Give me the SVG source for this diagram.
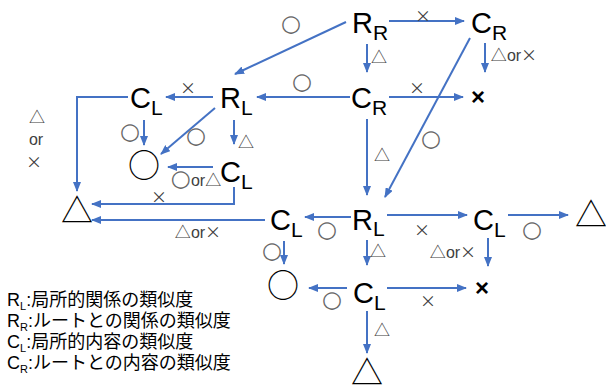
<svg xmlns="http://www.w3.org/2000/svg" width="606" height="387" viewBox="0 0 606 387">
<defs>
<marker id="ah" markerWidth="10" markerHeight="8" refX="9" refY="4" orient="auto" markerUnits="userSpaceOnUse"><path d="M0,0 L10,4 L0,8 z" fill="#4472C4"/></marker>
</defs>
<style>
.c{stroke:#4472C4;stroke-width:2;fill:none;marker-end:url(#ah)}
.n{font-family:"Liberation Sans",Arial,sans-serif;font-size:29px;fill:#000}
.s{font-size:21px}
.l{font-family:"Noto Sans CJK JP",sans-serif;font-size:16px;fill:#404040;text-anchor:middle}
.ci{font-family:"DejaVu Sans",sans-serif;font-size:23px;fill:#666}
.o{font-family:"Liberation Sans",sans-serif}
.big{font-family:"Noto Sans CJK JP",sans-serif;font-size:32px;fill:#000;text-anchor:middle}
.bx{font-family:"Liberation Sans",sans-serif;font-size:24px;font-weight:bold;text-anchor:middle}
.g{font-family:"Liberation Sans","Noto Sans CJK JP",sans-serif;font-size:18px;fill:#000}
.gs{font-size:11px}
</style>
<rect width="606" height="387" fill="#fff"/>
<g id="connectors">
<line class="c" x1="389" y1="21" x2="464" y2="21"/>
<line class="c" x1="346" y1="22" x2="235" y2="74"/>
<line class="c" x1="367" y1="44" x2="367" y2="72"/>
<line class="c" x1="485" y1="43" x2="485" y2="72"/>
<line class="c" x1="389" y1="97" x2="463" y2="97"/>
<line class="c" x1="470" y1="38" x2="385" y2="197"/>
<line class="c" x1="367" y1="119" x2="367" y2="195"/>
<line class="c" x1="350" y1="97" x2="257" y2="97"/>
<line class="c" x1="213" y1="97" x2="166" y2="97"/>
<polyline class="c" points="128,97 77,97 77,191"/>
<line class="c" x1="144" y1="120" x2="144" y2="145"/>
<line class="c" x1="215" y1="108" x2="161" y2="154"/>
<line class="c" x1="234" y1="120" x2="234" y2="144"/>
<line class="c" x1="213" y1="167" x2="168" y2="167"/>
<polyline class="c" points="234,187 234,204 92,204"/>
<line class="c" x1="265" y1="220" x2="92" y2="220"/>
<line class="c" x1="351" y1="217" x2="305" y2="217"/>
<line class="c" x1="284" y1="241" x2="284" y2="264"/>
<line class="c" x1="387" y1="215" x2="467" y2="215"/>
<line class="c" x1="367" y1="240" x2="367" y2="265"/>
<line class="c" x1="508" y1="215" x2="568" y2="215"/>
<line class="c" x1="488" y1="238" x2="488" y2="266"/>
<line class="c" x1="347" y1="288" x2="309" y2="288"/>
<line class="c" x1="387" y1="288" x2="466" y2="288"/>
<line class="c" x1="367" y1="311" x2="367" y2="353"/>
</g>
<g id="labels">
<text class="l ci" x="291" y="31">○</text>
<text class="l" x="423" y="22">×</text>
<text class="l" x="379" y="63">△</text>
<text class="l" x="514" y="61">△<tspan class="o">or</tspan>×</text>
<text class="l" x="417" y="94">×</text>
<text class="l ci" x="431" y="146">○</text>
<text class="l" x="382" y="161">△</text>
<text class="l ci" x="302" y="89">○</text>
<text class="l" x="188" y="94">×</text>
<text class="l" x="37" y="123">△</text>
<text class="l o" x="36" y="145">or</text>
<text class="l" x="34" y="168">×</text>
<text class="l ci" x="130" y="139">○</text>
<text class="l ci" x="196" y="143">○</text>
<text class="l" x="246" y="148">△</text>
<text class="l" x="196" y="186"><tspan class="ci">○</tspan><tspan class="o">or</tspan>△</text>
<text class="l" x="159" y="203">×</text>
<text class="l" x="198" y="238">△<tspan class="o">or</tspan>×</text>
<text class="l ci" x="327" y="237">○</text>
<text class="l ci" x="272" y="258">○</text>
<text class="l" x="422" y="236">×</text>
<text class="l" x="378" y="257">△</text>
<text class="l ci" x="532" y="237">○</text>
<text class="l" x="453" y="258">△<tspan class="o">or</tspan>×</text>
<text class="l ci" x="332" y="307">○</text>
<text class="l" x="428" y="307">×</text>
<text class="l" x="382" y="336">△</text>
</g>
<g id="n-RR"><text class="n" x="352" y="33">R<tspan class="s" dy="7">R</tspan></text></g>
<g id="n-CR1"><text class="n" x="471" y="33">C<tspan class="s" dy="7">R</tspan></text></g>
<g id="n-CR2"><text class="n" x="351" y="108">C<tspan class="s" dy="7">R</tspan></text></g>
<g id="n-RL1"><text class="n" x="220" y="108">R<tspan class="s" dy="7">L</tspan></text></g>
<g id="n-CL1"><text class="n" x="130" y="108">C<tspan class="s" dy="7">L</tspan></text></g>
<g id="n-CL2"><text class="n" x="220" y="182">C<tspan class="s" dy="7">L</tspan></text></g>
<g id="n-CL3"><text class="n" x="270" y="230">C<tspan class="s" dy="7">L</tspan></text></g>
<g id="n-RL2"><text class="n" x="352" y="230">R<tspan class="s" dy="6">L</tspan></text></g>
<g id="n-CL5"><text class="n" x="473" y="230">C<tspan class="s" dy="7">L</tspan></text></g>
<g id="n-CL4"><text class="n" x="353" y="303">C<tspan class="s" dy="7">L</tspan></text></g>
<g id="t-circle1"><text class="big" x="144" y="177">○</text></g>
<g id="t-tri1"><text class="big" x="77" y="222">△</text></g>
<g id="t-x1"><text class="bx" x="478" y="105">×</text></g>
<g id="t-circle2"><text class="big" x="283" y="297">○</text></g>
<g id="t-tri2"><text class="big" x="591" y="226">△</text></g>
<g id="t-x2"><text class="bx" x="482" y="296">×</text></g>
<g id="t-tri3"><text class="big" x="367" y="384">△</text></g>
<g id="legend">
<text class="g" x="7" y="306">R<tspan class="gs" dy="4">L</tspan><tspan dy="-4">:局所的関係の類似度</tspan></text>
<text class="g" x="7" y="327">R<tspan class="gs" dy="4">R</tspan><tspan dy="-4">:ルートとの関係の類似度</tspan></text>
<text class="g" x="7" y="348">C<tspan class="gs" dy="4">L</tspan><tspan dy="-4">:局所的内容の類似度</tspan></text>
<text class="g" x="7" y="369">C<tspan class="gs" dy="4">R</tspan><tspan dy="-4">:ルートとの内容の類似度</tspan></text>
</g>
</svg>
